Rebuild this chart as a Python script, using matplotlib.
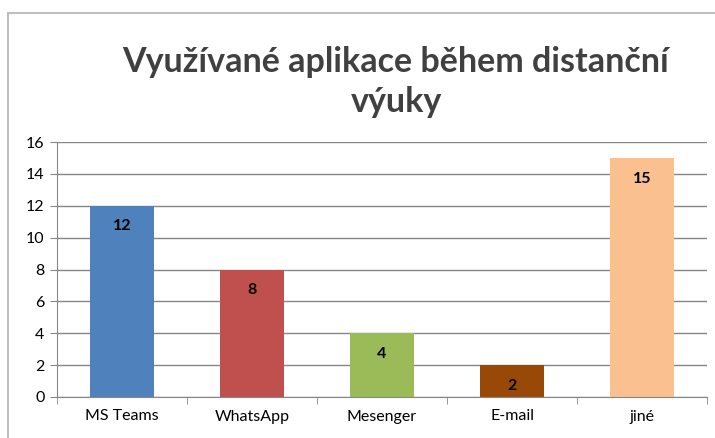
import matplotlib
matplotlib.use("Agg")
import matplotlib.pyplot as plt

categories = ["MS Teams", "WhatsApp", "Mesenger", "E-mail", "jiné"]
values = [12, 8, 4, 2, 15]
colors = ["#4F81BD", "#C0504D", "#9BBB59", "#984807", "#FAC090"]
yticks = [0, 2, 4, 6, 8, 10, 12, 14, 16]
title = "Využívané aplikace během distanční\nvýuky"

plt.rcParams["font.family"] = ["Lato", "DejaVu Sans"]

fig = plt.figure(figsize=(7.15, 4.38), dpi=100)
# chart border
fig.patches.append(plt.Rectangle((8 / 715, -0.05), 1.2, 1 - 13 / 438 + 0.05,
                                 transform=fig.transFigure, fill=False,
                                 edgecolor="#BFBFBF", linewidth=1.5))

ax = fig.add_axes([57 / 715, 1 - 397 / 438, 650 / 715, 255 / 438])
x = range(len(categories))
bars = ax.bar(x, values, width=0.49, color=colors, zorder=2)
for b, v in zip(bars, values):
    ax.text(b.get_x() + b.get_width() / 2, v - 1.3, str(v), ha="center", va="center",
            fontsize=11.5, fontweight="bold", color="black", zorder=3)

ax.set_xlim(-0.5, len(categories) - 0.5)
ax.set_ylim(0, 16)
ax.set_yticks(yticks)
ax.yaxis.grid(True, color="#868686", linewidth=1)
ax.set_axisbelow(True)
ax.set_xticks(list(x))
ax.set_xticklabels(categories)
ax.set_xticks([i + 0.5 for i in range(-1, len(categories))], minor=True)
ax.tick_params(axis="x", which="major", length=0, pad=9, labelsize=11.5)
ax.tick_params(axis="x", which="minor", length=5, color="#868686", direction="out")
ax.tick_params(axis="y", length=5, color="#868686", labelsize=11.5, pad=4)
for s in ["top", "right"]:
    ax.spines[s].set_visible(False)
for s in ["left", "bottom"]:
    ax.spines[s].set_color("#868686")

fig.text(396 / 715, 1 - 82 / 438, title, ha="center", va="center", fontsize=24.5,
         fontweight="bold", color="#404040", linespacing=1.3)

fig.savefig("out.png", dpi=100)
